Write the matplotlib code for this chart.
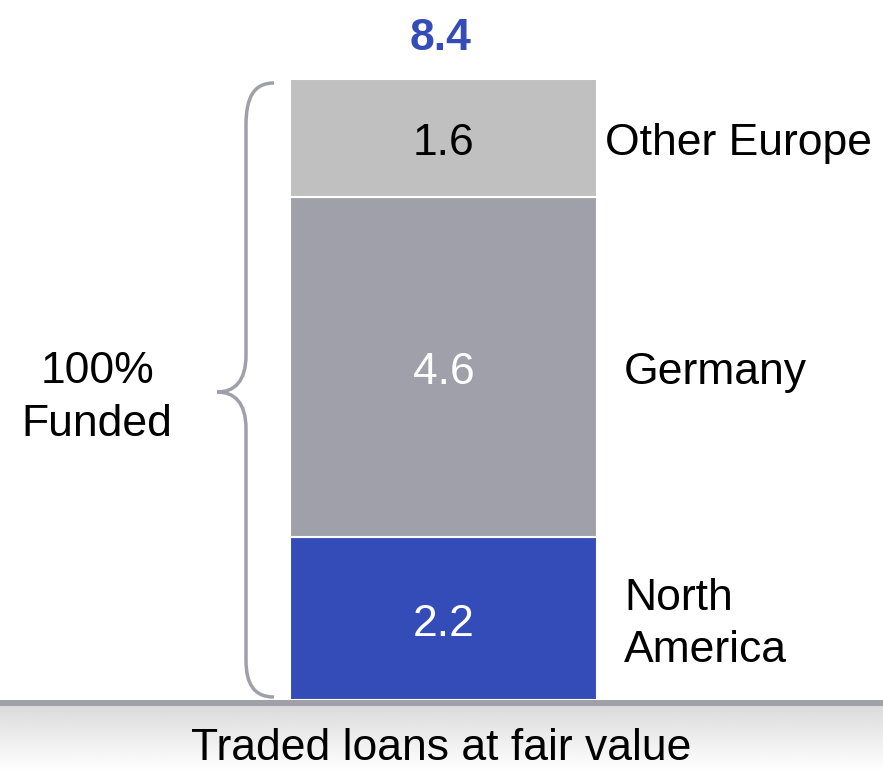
import numpy as np
import matplotlib.pyplot as plt
from matplotlib.path import Path
from matplotlib.patches import PathPatch

plt.rcParams['font.family'] = ['Liberation Sans', 'DejaVu Sans']

regions = ['North\nAmerica', 'Germany', 'Other Europe']
values = [2.2, 4.6, 1.6]
colors = ['#344cb7', '#a0a0aa', '#c0c0c0']
value_colors = ['white', 'white', 'black']
label_x = [624, 624, 605]
total_label = '8.4'
axis_label = 'Traded loans at fair value'
brace_label = '100%\nFunded'

W, H = 883, 771
fig = plt.figure(figsize=(W / 100, H / 100), dpi=100)

# bar axes: y=0 at pixel 700, top of stack at pixel 79
total = sum(values)
ax = fig.add_axes([0, (H - 700) / H, 1, (700 - 79) / H])
ax.set_xlim(0, W)
ax.set_ylim(0, total)
ax.axis('off')

bottom = 0
for name, v, c, tc, lx in zip(regions, values, colors, value_colors, label_x):
    ax.bar(443.5, v, width=307, bottom=bottom, color=c, edgecolor='white', linewidth=1.5)
    mid = bottom + v / 2
    ax.annotate(f'{v:.1f}', (443.5, mid), xytext=(0, -4), textcoords='offset points',
                ha='center', va='center', fontsize=32, color=tc)
    ax.annotate(name, (lx, mid), xytext=(0, -4), textcoords='offset points',
                ha='left', va='center', fontsize=32, color='black', linespacing=1.35)
    bottom += v

# overlay in pixel coords
ov = fig.add_axes([0, 0, 1, 1])
ov.set_xlim(0, W)
ov.set_ylim(H, 0)
ov.axis('off')
ov.patch.set_alpha(0)

# bottom band with gradient
grad = np.linspace(0.86, 1.0, 100).reshape(-1, 1)
ov.imshow(np.repeat(grad, 2, axis=1), cmap='gray', vmin=0, vmax=1,
          extent=[0, W, H, 706], aspect='auto', zorder=1)
ov.fill_between([0, W], 700, 706, color='#a0a0a8', zorder=2, linewidth=0)
ov.set_xlim(0, W)
ov.set_ylim(H, 0)
ov.text(W / 2, 749, axis_label, ha='center', va='center', fontsize=32, zorder=3)

# brace
verts = [(274, 83), (254, 83), (246, 97), (246, 125),
         (246, 355),
         (246, 382), (234, 392), (217, 392),
         (234, 392), (246, 402), (246, 429),
         (246, 660),
         (246, 684), (254, 697), (274, 697)]
codes = [Path.MOVETO, Path.CURVE4, Path.CURVE4, Path.CURVE4,
         Path.LINETO,
         Path.CURVE4, Path.CURVE4, Path.CURVE4,
         Path.CURVE4, Path.CURVE4, Path.CURVE4,
         Path.LINETO,
         Path.CURVE4, Path.CURVE4, Path.CURVE4]
ov.add_patch(PathPatch(Path(verts, codes), facecolor='none', edgecolor='#a0a0a8', lw=2.5, zorder=3))

ov.text(97, 398, brace_label, ha='center', va='center', fontsize=32, linespacing=1.35)
ov.text(441, 38, total_label, ha='center', va='center', fontsize=32,
        fontweight='bold', color='#344cb7')

fig.savefig('out.png', dpi=100)
